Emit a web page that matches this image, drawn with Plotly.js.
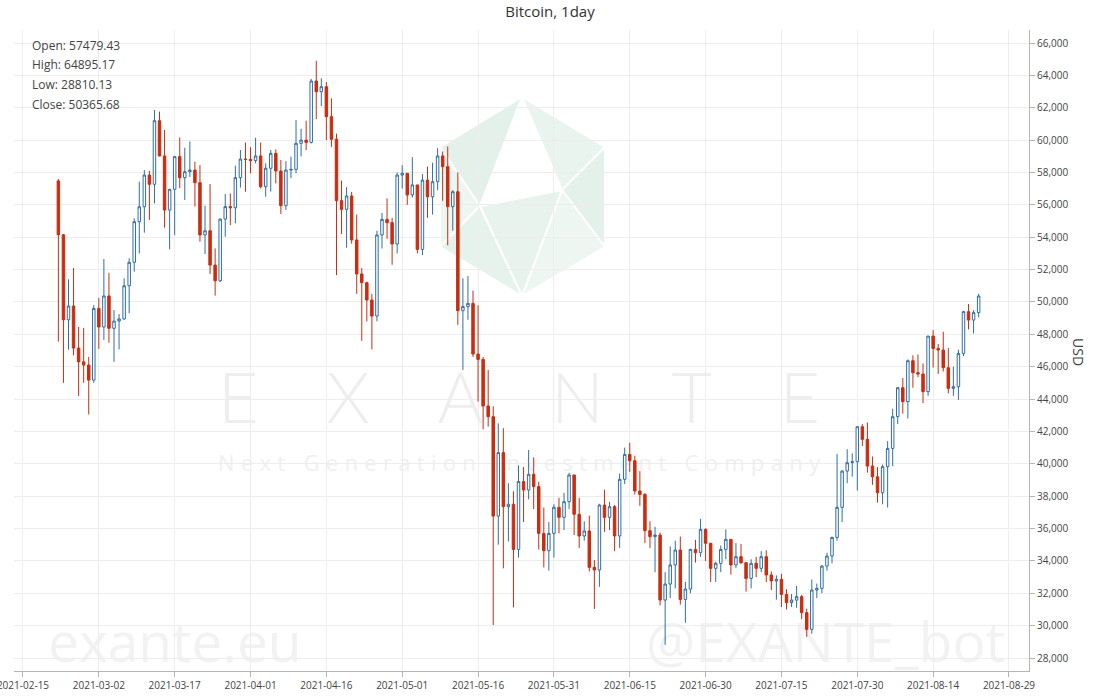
<!DOCTYPE html>
<html>
<head>
<meta charset="utf-8">
<script src="https://cdn.plot.ly/plotly-3.0.1.min.js"></script>
<style>html,body{margin:0;padding:0;background:#fff;}#chart{width:1100px;height:700px;}</style>
</head>
<body>
<div id="chart"></div>
<script>
const dates = [
"2021-02-22","2021-02-23","2021-02-24","2021-02-25","2021-02-26","2021-02-27","2021-02-28",
"2021-03-01","2021-03-02","2021-03-03","2021-03-04","2021-03-05","2021-03-06","2021-03-07","2021-03-08","2021-03-09","2021-03-10",
"2021-03-11","2021-03-12","2021-03-13","2021-03-14","2021-03-15","2021-03-16","2021-03-17","2021-03-18","2021-03-19","2021-03-20",
"2021-03-21","2021-03-22","2021-03-23","2021-03-24","2021-03-25","2021-03-26","2021-03-27","2021-03-28","2021-03-29","2021-03-30","2021-03-31",
"2021-04-01","2021-04-02","2021-04-03","2021-04-04","2021-04-05","2021-04-06","2021-04-07","2021-04-08","2021-04-09","2021-04-10",
"2021-04-11","2021-04-12","2021-04-13","2021-04-14","2021-04-15","2021-04-16","2021-04-17","2021-04-18","2021-04-19","2021-04-20",
"2021-04-21","2021-04-22","2021-04-23","2021-04-24","2021-04-25","2021-04-26","2021-04-27","2021-04-28","2021-04-29","2021-04-30",
"2021-05-01","2021-05-02","2021-05-03","2021-05-04","2021-05-05","2021-05-06","2021-05-07","2021-05-08","2021-05-09","2021-05-10",
"2021-05-11","2021-05-12","2021-05-13","2021-05-14","2021-05-15","2021-05-16","2021-05-17","2021-05-18","2021-05-19","2021-05-20",
"2021-05-21","2021-05-22","2021-05-23","2021-05-24","2021-05-25","2021-05-26","2021-05-27","2021-05-28","2021-05-29","2021-05-30","2021-05-31",
"2021-06-01","2021-06-02","2021-06-03","2021-06-04","2021-06-05","2021-06-06","2021-06-07","2021-06-08","2021-06-09","2021-06-10",
"2021-06-11","2021-06-12","2021-06-13","2021-06-14","2021-06-15","2021-06-16","2021-06-17","2021-06-18","2021-06-19","2021-06-20",
"2021-06-21","2021-06-22","2021-06-23","2021-06-24","2021-06-25","2021-06-26","2021-06-27","2021-06-28","2021-06-29","2021-06-30",
"2021-07-01","2021-07-02","2021-07-03","2021-07-04","2021-07-05","2021-07-06","2021-07-07","2021-07-08","2021-07-09","2021-07-10",
"2021-07-11","2021-07-12","2021-07-13","2021-07-14","2021-07-15","2021-07-16","2021-07-17","2021-07-18","2021-07-19","2021-07-20",
"2021-07-21","2021-07-22","2021-07-23","2021-07-24","2021-07-25","2021-07-26","2021-07-27","2021-07-28","2021-07-29","2021-07-30","2021-07-31",
"2021-08-01","2021-08-02","2021-08-03","2021-08-04","2021-08-05","2021-08-06","2021-08-07","2021-08-08","2021-08-09","2021-08-10",
"2021-08-11","2021-08-12","2021-08-13","2021-08-14","2021-08-15","2021-08-16","2021-08-17","2021-08-18","2021-08-19","2021-08-20",
"2021-08-21","2021-08-22","2021-08-23"
];
const openV = [
57479.43,54150,48900,49750,47150,46300,46100,
45170,49600,48450,50370,48370,48820,48950,51000,52450,54960,
55880,57840,57270,61200,59020,55680,56960,58980,57680,58050,
58150,57370,54140,54400,52280,51310,55120,55890,55820,57680,58830,
58810,58740,59020,57120,58260,59180,58090,55950,58150,58190,
59800,60000,59860,63650,62990,63300,61450,60050,56260,55720,
56550,53830,51730,51190,50120,49130,54140,55100,54900,53580,
57840,57950,56610,57230,53250,57530,56500,57430,59020,58360,
55890,56810,49460,49710,49910,46780,46450,43570,42910,36770,
40690,37350,37500,34710,38900,38380,39350,38590,35700,34630,35700,
37310,36690,37660,39310,36880,35540,35850,33600,33440,37450,
36690,37350,35540,39040,40580,40190,38320,38110,35870,35500,
35600,31580,32570,33750,34670,31620,32260,34710,34510,35950,
35090,33540,33850,34710,35330,33750,34260,33890,32920,33850,
33540,34260,33130,32760,32860,31930,31420,31580,31790,30800,
29770,32200,32300,33680,34300,35450,37310,39550,40070,40130,42290,
41510,39860,39200,38210,39820,40950,42910,44700,43840,46370,
45630,45550,44460,47890,47130,47030,45940,44660,44760,46820,
49400,48880,49340
];
const highV = [
57600,54200,51400,52100,48450,48400,46600,
49800,50250,52650,51800,49500,49250,51460,52700,55170,57430,
58150,58090,61860,61760,60630,56980,59000,60170,59530,59920,
58670,58460,55950,57290,53310,55150,56670,56700,58420,59390,59850,
59560,60150,59850,58560,59390,59430,58770,58700,58980,61240,
60700,61200,63780,64895.17,63820,63590,62580,60400,57500,57100,
56800,55400,52100,51250,50500,54400,55500,56400,55200,58000,
58450,57950,58950,57230,57900,58360,58600,59500,59300,59600,
56900,58000,51460,51600,50700,49800,46600,45800,43550,42500,
42200,38800,38300,39900,39800,40850,40400,38900,37300,36400,37500,
37900,38200,39450,39310,37900,36450,36800,34050,37530,38400,
37650,37450,39400,41000,41300,40500,39550,38200,36450,36100,
35750,33300,34900,35250,35500,32700,34750,35300,36600,36000,
35090,33950,34950,35950,35330,35100,35050,33900,34100,34250,
34600,34650,33350,33100,33200,32250,31950,32450,31900,31050,
32850,32600,33750,34500,35500,40600,39600,40900,40650,42300,42450,
42550,40450,39800,39950,41400,43400,44750,45300,46450,46700,
46750,46200,47900,48260,47400,48160,47150,46000,47050,49450,
49870,49500,50500
];
const lowV = [
47550,45000,47050,46700,44200,45000,43050,
45000,47100,47650,47480,46300,47070,48900,49300,51870,53000,
54280,55060,56090,59000,54590,53250,54130,57030,56300,57720,
55900,53720,52960,51730,50390,51230,54030,54750,54860,57060,56810,
57950,58560,57020,56500,56820,57330,55430,55680,57650,57950,
59000,59380,59790,61300,62100,60000,59580,51660,54200,53350,
53600,50500,47600,48800,47070,48800,53300,53900,52300,53000,
57000,56000,56450,53000,52900,55200,55400,56900,56250,53500,
54400,48580,45800,48900,46600,43840,42130,42300,30040,35000,
33540,35200,31130,34200,36400,37800,37200,34700,33600,33400,34200,
35700,35900,37200,35600,34800,35250,33350,31030,32400,35800,
35900,34600,34800,38750,39500,38100,37400,35100,34800,33300,
31250,28810.13,31700,32300,31300,30180,32000,33900,34250,34000,
32700,32700,33300,34100,33150,33550,33800,32100,32300,33000,
33300,32700,32200,31600,31150,31000,31150,31100,30400,29300,
29500,31700,32000,33400,33850,35250,36400,38800,39200,38350,41100,
39450,38700,37600,37500,37300,39850,42450,43100,42800,44700,
45350,43750,44200,45950,45550,45700,44350,44200,43950,46650,
48300,48050,49050
];
const closeV = [
54150,48900,49750,47150,46300,46100,45170,
49600,48450,50370,48370,48820,48950,51000,52450,54960,55880,
57840,57270,61200,59020,55680,56960,58980,57680,58050,58150,
57370,54140,54400,52280,51310,55120,55890,55820,57680,58830,58810,
58740,59020,57120,58260,59180,58090,55950,58150,58190,59800,
60000,59860,63650,62990,63300,61450,60050,56260,55720,56550,
53830,51730,51190,50120,49130,54140,55100,54900,53580,57840,
57950,56610,57230,53250,57530,56500,57430,59020,58360,55890,
56810,49460,49710,49910,46780,46450,43570,42910,36770,40690,
37350,37500,34710,38900,38380,39350,38590,35700,34630,35700,37310,
36690,37660,39310,36880,35540,35850,33600,33440,37450,36690,
37350,35540,39040,40580,40190,38320,38110,35870,35500,35600,
31580,32570,33750,34670,31620,32260,34710,34510,35950,35090,
33540,33850,34710,35330,33750,34260,33890,32920,33850,33540,
34260,33130,32760,32860,31930,31420,31580,31790,30800,29770,
32200,32300,33680,34300,35450,37310,39550,40070,40130,42290,41510,
39860,39200,38210,39820,40950,42910,44700,43840,46370,45630,
45550,44460,47890,47130,47030,45940,44660,44760,46820,49400,
48880,49340,50365.68
];
const summaryLabels = ["Open: 57479.43","High: 64895.17","Low: 28810.13","Close: 50365.68"];
const chartTitle = "Bitcoin, 1day";
const yTitle = "USD";

// plot area in pixels (for placing paper-referenced decorations)
const PL = 14, PR = 1029, PT = 30, PB = 671;
const px = x => (x - PL) / (PR - PL);
const py = y => (PB - y) / (PB - PT);
function poly(pts){ return pts.map((p,i)=>(i?'L':'M')+px(p[0]).toFixed(4)+','+py(p[1]).toFixed(4)).join(' ')+' Z'; }

const logoShapes = [];
const facets = [
  {pts:[[522,97],[605,147],[562,190]], c:'#eaf4ef'},
  {pts:[[605,147],[605,247],[562,190]], c:'#e4f1ea'},
  {pts:[[440,147],[522,97],[480,206]], c:'#e4f1ea'},
  {pts:[[440,147],[440,247],[480,206]], c:'#edf6f1'},
  {pts:[[440,247],[480,206],[522,296]], c:'#e6f2ec'},
  {pts:[[605,247],[562,190],[522,296]], c:'#edf6f1'},
  {pts:[[480,206],[562,190],[522,296]], c:'#e9f3ee'}
];
facets.forEach(f => logoShapes.push({type:'path', xref:'paper', yref:'paper', layer:'below', path:poly(f.pts), fillcolor:f.c, line:{color:'#ffffff', width:2}}));

const trace = {
  type:'candlestick', x:dates, open:openV, high:highV, low:lowV, close:closeV,
  increasing:{line:{color:'#2f6fa6', width:1}, fillcolor:'#ffffff'},
  decreasing:{line:{color:'#c92d10', width:1}, fillcolor:'#c92d10'},
  whiskerwidth:0, hoverinfo:'skip', showlegend:false
};

const annFont = {family:'Open Sans, sans-serif', size:12, color:'#444'};
const annotations = summaryLabels.map((t,i)=>({
  text:t, xref:'paper', yref:'paper', x:px(30), y:py(45 + i*19.7), xanchor:'left', yanchor:'middle', showarrow:false, font:annFont
}));
annotations.push({text:yTitle, xref:'paper', yref:'paper', x:px(1078), y:py(352), textangle:90, showarrow:false, xanchor:'center', yanchor:'middle', font:{family:'Open Sans, sans-serif', size:14, color:'#444'}});
const wmStart = annotations.length;
annotations.push({text:'EXANTE', xref:'paper', yref:'paper', x:px(519), y:py(396), showarrow:false, xanchor:'center', yanchor:'middle', font:{family:'Lato, sans-serif', size:70, color:'#eeeeee', weight:300}});
annotations.push({text:'Next Generation Investment Company', xref:'paper', yref:'paper', x:px(519), y:py(462), showarrow:false, xanchor:'center', yanchor:'middle', font:{family:'Open Sans, sans-serif', size:22, color:'#f0f0f0'}});
annotations.push({text:'exante.eu', xref:'paper', yref:'paper', x:px(175), y:py(640), showarrow:false, xanchor:'center', yanchor:'middle', font:{family:'Open Sans, sans-serif', size:55, color:'#f2f2f2'}});
annotations.push({text:'@EXANTE_bot', xref:'paper', yref:'paper', x:px(825), y:py(640), showarrow:false, xanchor:'center', yanchor:'middle', font:{family:'Open Sans, sans-serif', size:55, color:'#f2f2f2'}});

const layout = {
  width:1100, height:700,
  margin:{l:PL, r:1100-PR, t:PT, b:700-PB, pad:0},
  paper_bgcolor:'#ffffff', plot_bgcolor:'#ffffff',
  font:{family:'Open Sans, sans-serif', color:'#444'},
  title:{text:chartTitle, xref:'container', yref:'container', x:0.5, y:1-12/700, xanchor:'center', yanchor:'middle', font:{family:'Open Sans, sans-serif', size:15, color:'#333'}},
  showlegend:false, hovermode:false, dragmode:false,
  xaxis:{type:'date', range:['2021-02-13 05:20','2021-09-01 23:00'], tick0:'2021-02-15', dtick:15*86400000, tickformat:'%Y-%m-%d',
    tickfont:{size:10, color:'#444'}, ticklabeloverflow:'allow', showgrid:true, gridcolor:'#ededed', gridwidth:1, zeroline:false,
    showline:true, linecolor:'#b5b5b5', linewidth:1, ticks:'outside', ticklen:5, tickcolor:'#b5b5b5',
    rangeslider:{visible:false}, fixedrange:true},
  yaxis:{side:'right', range:[27197,66803], tick0:0, dtick:2000, tickformat:',d',
    tickfont:{size:10, color:'#444'}, showgrid:true, gridcolor:'#ededed', gridwidth:1, zeroline:false,
    showline:true, linecolor:'#b5b5b5', linewidth:1, ticks:'outside', ticklen:5, tickcolor:'#b5b5b5', fixedrange:true},
  shapes:logoShapes,
  annotations:annotations
};

Plotly.newPlot('chart', [trace], layout, {displayModeBar:false, staticPlot:true}).then(gd => {
  const svg = gd.querySelector('.main-svg');
  const below = svg.querySelector('.layer-below') || svg.querySelector('.bglayer');
  const lengths = {'EXANTE':602, 'Next Generation Investment Company':602};
  for(let k = wmStart; k < annotations.length; k++){
    const g = gd.querySelector('.infolayer .annotation[data-index="'+k+'"]');
    if(!g) continue;
    const txt = g.querySelector('text.annotation-text');
    const L = lengths[annotations[k].text];
    if(txt && L){ txt.setAttribute('textLength', L); txt.setAttribute('lengthAdjust','spacing'); }
    if(below) below.appendChild(g);
  }
});
</script>
</body>
</html>
